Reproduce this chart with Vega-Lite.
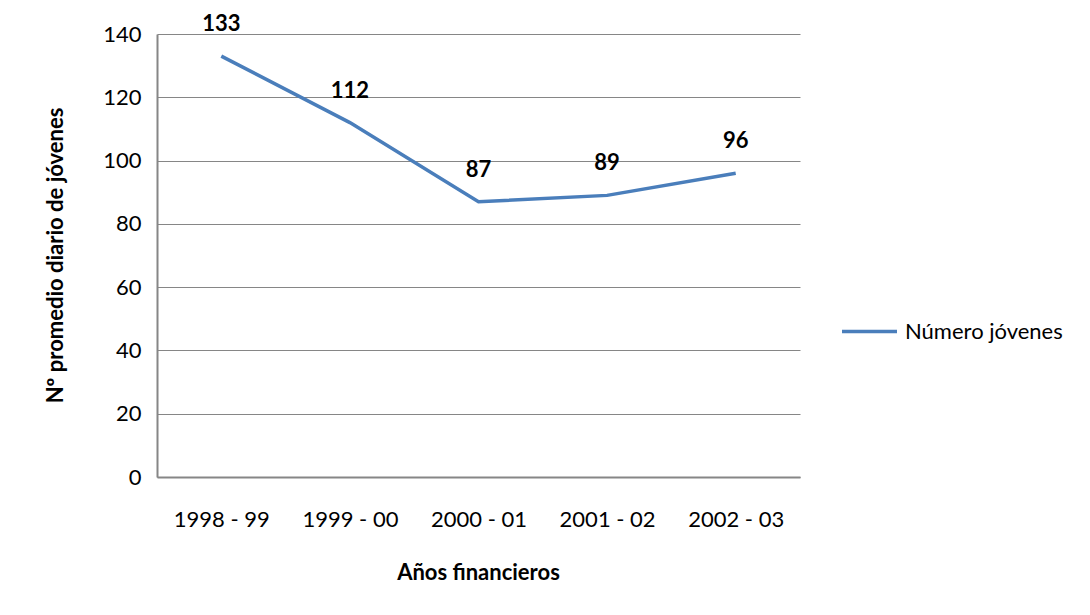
{
  "$schema": "https://vega.github.io/schema/vega-lite/v6.json",
  "autosize": {"type": "none"},
  "width": 643,
  "height": 443,
  "padding": {"left": 157, "top": 34, "right": 290, "bottom": 138},
  "background": "white",
  "config": {
    "font": "Lato",
    "view": {"stroke": null},
    "axis": {"labelFont": "Lato", "titleFont": "Lato", "labelColor": "#000000", "titleColor": "#000000"}
  },
  "data": {
    "values": [
      {"anio": "1998 - 99", "valor": 133, "serie": "Número jóvenes"},
      {"anio": "1999 - 00", "valor": 112, "serie": "Número jóvenes"},
      {"anio": "2000 - 01", "valor": 87, "serie": "Número jóvenes"},
      {"anio": "2001 - 02", "valor": 89, "serie": "Número jóvenes"},
      {"anio": "2002 - 03", "valor": 96, "serie": "Número jóvenes"}
    ]
  },
  "encoding": {
    "x": {
      "field": "anio", "type": "nominal", "sort": null,
      "scale": {"paddingInner": 0, "paddingOuter": 0},
      "axis": {
        "title": "Años financieros", "titleFontSize": 22, "titleFontWeight": "bold",
        "titleX": 321, "titleY": 95, "titleBaseline": "middle", "titleAlign": "center",
        "labelAngle": 0, "labelFontSize": 22, "labelPadding": 32, "labelBaseline": "top",
        "ticks": false, "domainColor": "#868686", "domainWidth": 2, "grid": false
      }
    },
    "y": {
      "field": "valor", "type": "quantitative",
      "scale": {"domain": [0, 140], "nice": false},
      "axis": {
        "title": "Nº promedio diario de jóvenes", "titleFontSize": 22, "titleFontWeight": "bold",
        "titleX": -102, "titleY": 221, "titleBaseline": "middle", "titleAlign": "center", "titleAngle": -90,
        "values": [0, 20, 40, 60, 80, 100, 120, 140],
        "labelFontSize": 22, "labelPadding": 16, "ticks": false,
        "domainColor": "#868686", "domainWidth": 2,
        "grid": true, "gridColor": "#868686", "gridWidth": 1
      }
    }
  },
  "layer": [
    {
      "mark": {"type": "line", "strokeWidth": 3.5},
      "encoding": {
        "color": {
          "field": "serie", "type": "nominal",
          "scale": {"domain": ["Número jóvenes"], "range": ["#4A7EBB"]},
          "legend": {
            "title": null, "orient": "none", "legendX": 683, "legendY": 268,
            "symbolType": "stroke", "symbolSize": 3025, "symbolStrokeWidth": 3.5,
            "labelFontSize": 22, "labelFont": "Lato", "labelColor": "#000000",
            "labelOffset": 6, "padding": 0
          }
        }
      }
    },
    {
      "mark": {"type": "text", "dy": -32, "fontSize": 22, "fontWeight": "bold", "color": "#000000"},
      "encoding": {"text": {"field": "valor", "type": "quantitative"}}
    }
  ]
}
